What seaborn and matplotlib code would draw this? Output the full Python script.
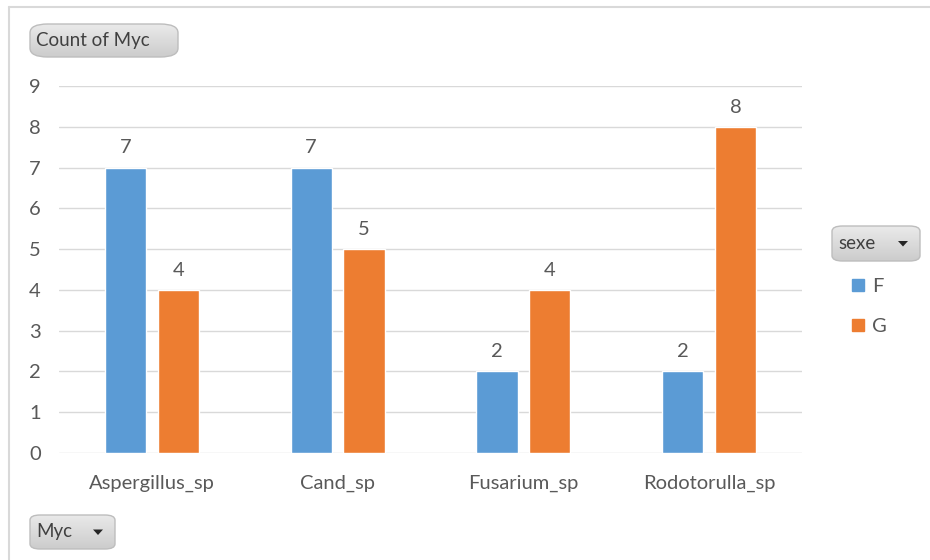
import matplotlib
matplotlib.use('Agg')

import matplotlib.pyplot as plt
from matplotlib.patches import FancyBboxPatch, Polygon
from matplotlib.lines import Line2D
import seaborn as sns
import numpy as np
import pandas as pd

# 数据
categories = ["Aspergillus_sp", "Cand_sp", "Fusarium_sp", "Rodotorulla_sp"]
count_F = [7, 7, 2, 2]
count_G = [4, 5, 4, 8]
sexes = ["F", "G"]
colors = {"F": "#5B9BD5", "G": "#ED7D31"}

df = pd.DataFrame({
    "Myc": categories * 2,
    "sexe": ["F"] * len(categories) + ["G"] * len(categories),
    "count": count_F + count_G,
})

sns.set_style("white")
plt.rcParams['font.family'] = ['Lato', 'DejaVu Sans']
TXT = "#595959"
FS = 14.5

fig = plt.figure(figsize=(9.3, 5.6), dpi=100)
W, H = 930, 560

ax = fig.add_axes([59 / W, 1 - 453 / H, (802 - 59) / W, (453 - 86) / H])
sns.barplot(data=df, x="Myc", y="count", hue="sexe", hue_order=sexes,
            palette=colors, width=0.57, gap=0.22, ax=ax, legend=False,
            saturation=1, errorbar=None)

ax.set_ylim(0, 9)
ax.set_yticks(range(0, 10))
ax.grid(axis='y', color="#D9D9D9", linewidth=1)
ax.set_axisbelow(True)
for s in ax.spines.values():
    s.set_visible(False)
ax.tick_params(axis='both', length=0, labelsize=FS, colors=TXT)
ax.tick_params(axis='y', pad=13)
ax.tick_params(axis='x', pad=16)
ax.set_xlabel("")
ax.set_ylabel("")

for c in ax.containers:
    ax.bar_label(c, padding=8, fontsize=FS, color=TXT)

# 图例
handles = [Line2D([], [], marker='s', linestyle='', markersize=8,
                  color=colors[s]) for s in sexes]
fig.legend(handles, sexes, loc='upper left',
           bbox_to_anchor=(834 / W, 1 - 260 / H), frameon=False,
           fontsize=FS, labelcolor=TXT, handlelength=0.6, handletextpad=0.4,
           labelspacing=1.15)

# 按钮渐变
grad = np.linspace(0, 1, 64).reshape(-1, 1)
grad_cmap = matplotlib.colors.LinearSegmentedColormap.from_list(
    "btn", ["#EAEAEA", "#CCCCCC"])


# 透视表按钮
def button(x0, y0, x1, y1, label, arrow=False):
    bax = fig.add_axes([x0 / W, 1 - y1 / H, (x1 - x0) / W, (y1 - y0) / H])
    bax.set_axis_off()
    bax.set_xlim(0, 1)
    bax.set_ylim(0, 1)
    box = FancyBboxPatch((0, 0), 1, 1,
                         boxstyle="round,pad=0,rounding_size=0.12",
                         mutation_aspect=(x1 - x0) / (y1 - y0) * 0.5,
                         transform=bax.transAxes, facecolor="none",
                         edgecolor="#BDBDBD", linewidth=1, clip_on=False)
    im = bax.imshow(grad, extent=[0, 1, 0, 1], origin='upper',
                    aspect='auto', cmap=grad_cmap)
    bax.add_patch(box)
    im.set_clip_path(box)
    fig.text((x0 + 6) / W, 1 - (y0 + y1) / 2 / H, label, fontsize=13.5,
             color="#404040", va='center', ha='left')
    if arrow:
        ax_x = x1 - 17
        ay = (y0 + y1) / 2
        tri = Polygon([((ax_x - 5) / W, 1 - (ay - 2.5) / H),
                       ((ax_x + 5) / W, 1 - (ay - 2.5) / H),
                       (ax_x / W, 1 - (ay + 3) / H)],
                      closed=True, transform=fig.transFigure,
                      facecolor="#262626", edgecolor="none")
        fig.add_artist(tri)


button(30, 24, 178, 57, "Count of Myc")
button(30, 515, 115, 549, "Myc", arrow=True)
button(832, 226, 920, 261, "sexe", arrow=True)

# 图表外框（上边和左边）
fig.add_artist(Line2D([9 / W, 9 / W], [0, 1 - 7 / H], color="#D9D9D9",
                      linewidth=1.5, transform=fig.transFigure))
fig.add_artist(Line2D([9 / W, 1], [1 - 7 / H, 1 - 7 / H], color="#D9D9D9",
                      linewidth=1.5, transform=fig.transFigure))

fig.savefig("out.png", dpi=100)
